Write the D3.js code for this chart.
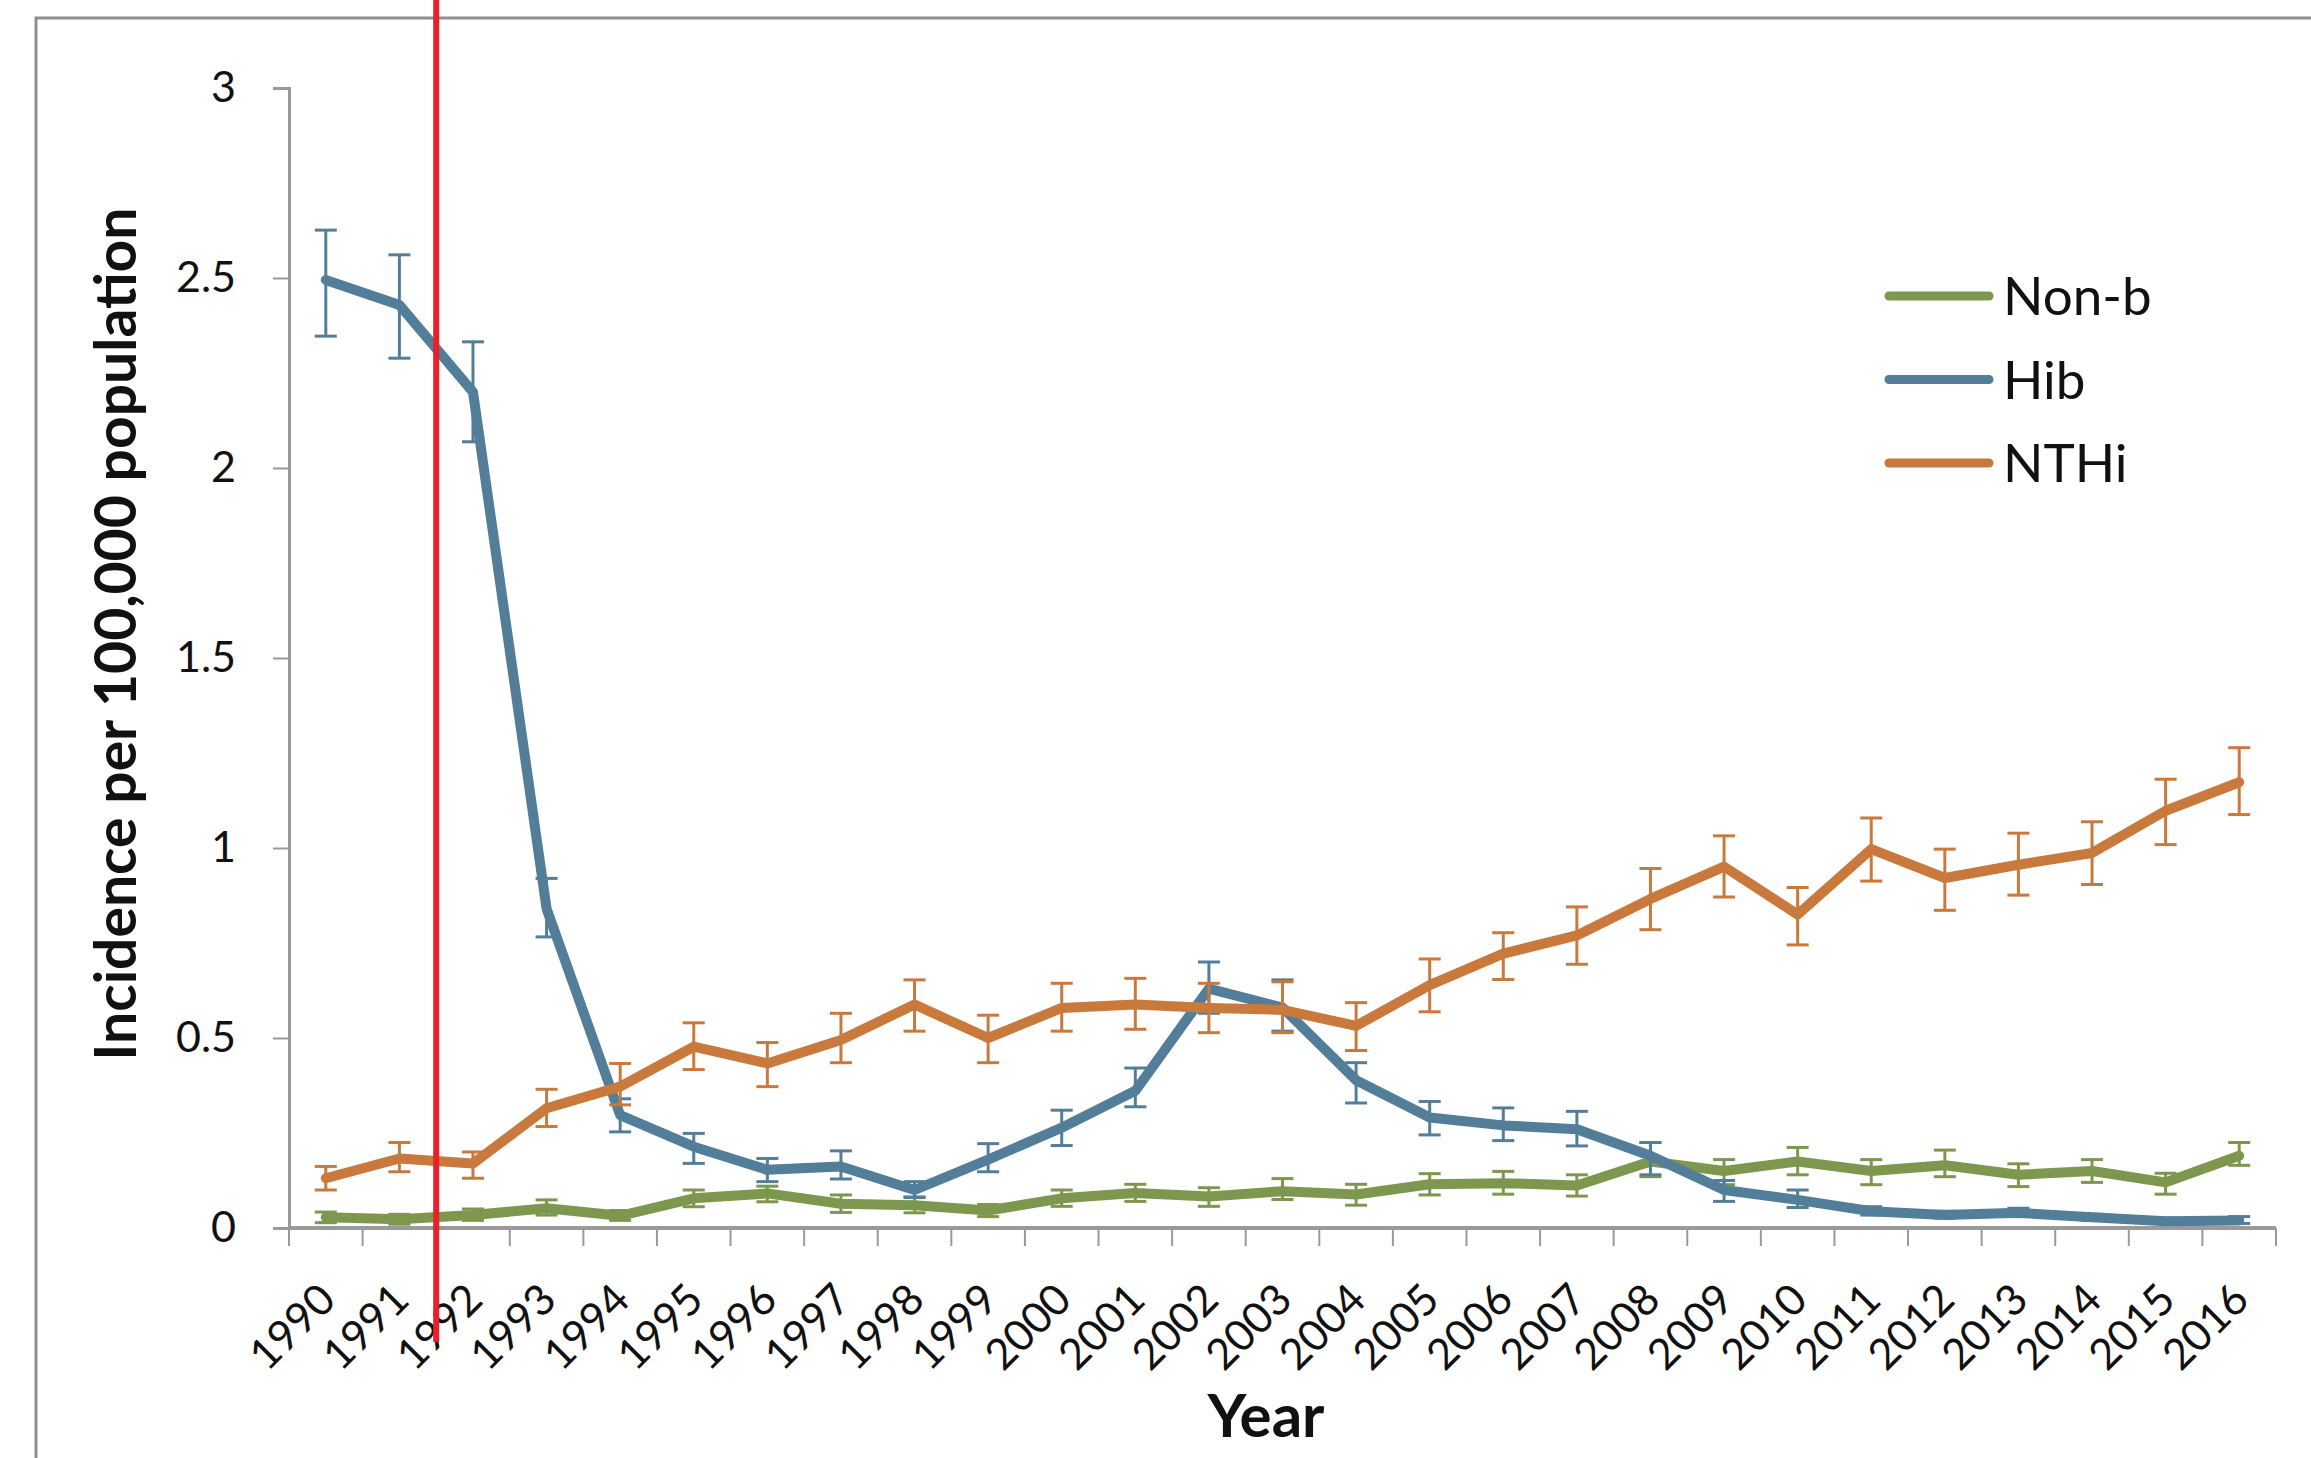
<!DOCTYPE html>
<html>
<head>
<meta charset="utf-8">
<script src="https://cdn.jsdelivr.net/npm/d3@7"></script>
<style>
  body { margin: 0; background: #fff; }
  svg { display: block; }
  text { font-family: Lato, "Open Sans", sans-serif; fill: #111; }
</style>
</head>
<body>
<div class="chart"></div>
<script>
// categories
const years = ['1990','1991','1992','1993','1994','1995','1996','1997','1998','1999',
  '2000','2001','2002','2003','2004','2005','2006','2007','2008','2009',
  '2010','2011','2012','2013','2014','2015','2016'];

// Non-b
const nonb   = [0.028,0.023,0.034,0.052,0.032,0.078,0.091,0.064,0.060,0.046,0.078,0.092,0.083,0.097,0.088,0.115,0.118,0.112,0.175,0.150,0.175,0.150,0.165,0.140,0.150,0.120,0.190];
const nonbLo = [0.014,0.010,0.020,0.034,0.020,0.056,0.069,0.041,0.040,0.030,0.057,0.070,0.057,0.075,0.060,0.087,0.089,0.084,0.135,0.114,0.140,0.114,0.135,0.109,0.120,0.089,0.165];
const nonbHi = [0.042,0.036,0.050,0.074,0.046,0.100,0.110,0.087,0.082,0.062,0.100,0.115,0.106,0.130,0.115,0.143,0.149,0.140,0.225,0.180,0.212,0.180,0.205,0.169,0.180,0.144,0.225];

// Hib
const hib    = [2.495,2.429,2.200,0.840,0.297,0.214,0.153,0.162,0.100,0.180,0.264,0.361,0.630,0.580,0.389,0.291,0.270,0.260,0.190,0.100,0.074,0.044,0.034,0.040,0.028,0.018,0.020];
const hibLo  = [2.347,2.289,2.069,0.766,0.253,0.170,0.122,0.129,0.080,0.148,0.217,0.319,0.565,0.518,0.329,0.245,0.230,0.216,0.140,0.070,0.054,0.034,0.026,0.030,0.020,0.012,0.012];
const hibHi  = [2.626,2.561,2.332,0.920,0.340,0.249,0.183,0.203,0.122,0.222,0.310,0.421,0.700,0.653,0.435,0.333,0.316,0.307,0.225,0.125,0.100,0.056,0.044,0.052,0.036,0.026,0.030];

// NTHi
const nthi   = [0.131,0.183,0.170,0.315,0.372,0.477,0.433,0.495,0.588,0.500,0.579,0.588,0.579,0.574,0.532,0.639,0.722,0.770,0.866,0.951,0.825,0.997,0.921,0.956,0.987,1.098,1.173];
const nthiLo = [0.100,0.148,0.131,0.267,0.324,0.417,0.372,0.435,0.518,0.435,0.518,0.523,0.514,0.514,0.467,0.569,0.654,0.694,0.785,0.871,0.745,0.913,0.836,0.876,0.904,1.009,1.088];
const nthiHi = [0.162,0.225,0.200,0.365,0.433,0.540,0.488,0.565,0.653,0.560,0.644,0.657,0.644,0.648,0.593,0.708,0.777,0.845,0.946,1.032,0.896,1.079,0.997,1.039,1.069,1.181,1.264];

const seriesNames = ['Non-b','Hib','NTHi'];
const colors = ['#7d984e','#527e9a','#ca793d'];
const yTicks = [0,0.5,1,1.5,2,2.5,3];

const W = 2311, H = 1458;
const margin = ({top:88, bottom:230, left:289, right:35});

const svg = d3.select('.chart').append('svg')
  .attr('width', W).attr('height', H);

// outer frame of the chart
svg.append('path')
  .attr('d', `M36,${H+5} L36,18 L${W+5},18`)
  .attr('fill','none').attr('stroke','#8f8f8f').attr('stroke-width',3);

const x = d3.scaleBand()
  .domain(years)
  .range([margin.left, W - margin.right])
  .paddingInner(0).paddingOuter(0);

const y = d3.scaleLinear()
  .domain([0,3])
  .range([H - margin.bottom, margin.top]);

// y axis
const yAxis = d3.axisLeft(y).tickValues(yTicks).tickFormat(d => d)
  .tickSize(16).tickPadding(37);
const gy = svg.append('g')
  .attr('transform', `translate(${margin.left},0)`)
  .call(yAxis);
gy.select('.domain').attr('stroke','#9a9a9a').attr('stroke-width',3);
gy.selectAll('.tick line').attr('stroke','#9a9a9a').attr('stroke-width',2);
gy.selectAll('.tick text').attr('font-size',43).attr('fill','#111')
  .attr('font-family','Lato, sans-serif');

// x axis
const y0 = y(0);
const xAxis = d3.axisBottom(x).tickSize(0).tickPadding(0);
const gx = svg.append('g')
  .attr('transform', `translate(0,${y0})`)
  .call(xAxis);
gx.select('.domain').remove();
gx.selectAll('.tick text')
  .attr('font-size',43).attr('fill','#111')
  .attr('font-family','Lato, sans-serif')
  .attr('text-anchor','end')
  .attr('dy', 0).attr('y', 0)
  .attr('transform', 'translate(12,74) rotate(-45)');

svg.append('line')
  .attr('x1', margin.left).attr('x2', W - margin.right)
  .attr('y1', y0).attr('y2', y0)
  .attr('stroke','#9a9a9a').attr('stroke-width',4);

// tick marks between categories
const boundaries = years.map(d => x(d)).concat([x(years[years.length-1]) + x.bandwidth()]);
svg.append('g').selectAll('line')
  .data(boundaries)
  .join('line')
  .attr('x1', d => d).attr('x2', d => d)
  .attr('y1', y0).attr('y2', y0 + 18)
  .attr('stroke','#9a9a9a').attr('stroke-width',2);

// axis titles
svg.append('text')
  .attr('transform', `translate(136,634) rotate(-90)`)
  .attr('text-anchor','middle')
  .attr('font-size',57).attr('font-weight','bold')
  .text('Incidence per 100,000 population');

svg.append('text')
  .attr('x', 1266).attr('y', 1437)
  .attr('text-anchor','middle')
  .attr('font-size',60).attr('font-weight','bold')
  .text('Year');

// series
const series = [
  {name: seriesNames[0], v: nonb, lo: nonbLo, hi: nonbHi, color: colors[0]},
  {name: seriesNames[1], v: hib,  lo: hibLo,  hi: hibHi,  color: colors[1]},
  {name: seriesNames[2], v: nthi, lo: nthiLo, hi: nthiHi, color: colors[2]}
];

const cx = d => x(d) + x.bandwidth()/2;
const line = d3.line().x(d => cx(d.year)).y(d => y(d.v));
const capW = 11;

series.forEach(s => {
  const pts = years.map((yr,i) => ({year: yr, v: s.v[i], lo: s.lo[i], hi: s.hi[i]}));
  const g = svg.append('g');

  g.append('path')
    .datum(pts)
    .attr('d', line)
    .attr('fill','none')
    .attr('stroke', s.color)
    .attr('stroke-width', 10)
    .attr('stroke-linejoin','round')
    .attr('stroke-linecap','round');

  const eb = g.selectAll('.eb').data(pts).join('g').attr('class','eb');
  eb.append('line')
    .attr('x1', d => cx(d.year)).attr('x2', d => cx(d.year))
    .attr('y1', d => y(d.lo)).attr('y2', d => y(d.hi))
    .attr('stroke', s.color).attr('stroke-width',3);
  eb.append('line')
    .attr('x1', d => cx(d.year) - capW).attr('x2', d => cx(d.year) + capW)
    .attr('y1', d => y(d.hi)).attr('y2', d => y(d.hi))
    .attr('stroke', s.color).attr('stroke-width',3);
  eb.append('line')
    .attr('x1', d => cx(d.year) - capW).attr('x2', d => cx(d.year) + capW)
    .attr('y1', d => y(d.lo)).attr('y2', d => y(d.lo))
    .attr('stroke', s.color).attr('stroke-width',3);
});

// legend
const legend = svg.append('g').attr('transform','translate(1889,296)');
const li = legend.selectAll('g').data(series).join('g')
  .attr('transform', (d,i) => `translate(0,${i*83.5})`);
li.append('line')
  .attr('x1',0).attr('x2',100).attr('y1',0).attr('y2',0)
  .attr('stroke', d => d.color).attr('stroke-width',9)
  .attr('stroke-linecap','round');
li.append('text')
  .attr('x',114).attr('y',19)
  .attr('font-size',53)
  .text(d => d.name);

// red marker line drawn over the chart
svg.append('line')
  .attr('x1', x('1992')).attr('x2', x('1992'))
  .attr('y1', 0).attr('y2', 1342)
  .attr('stroke','#e8202a').attr('stroke-width',6);
</script>
</body>
</html>
